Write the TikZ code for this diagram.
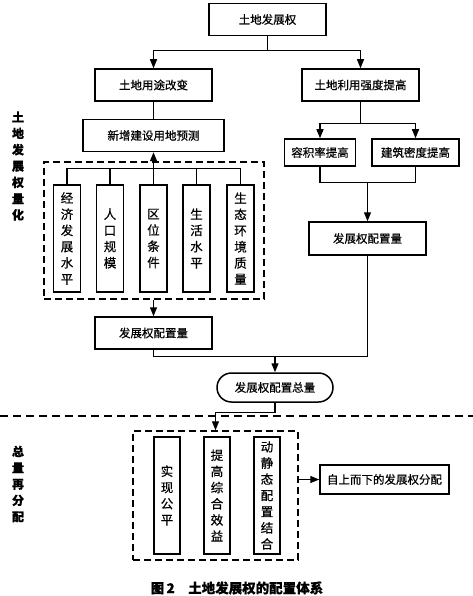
\documentclass[tikz,border=0pt]{standalone}
\usepackage{fontspec}
\newfontfamily\cjk[FakeBold=0.6]{Noto Sans CJK SC}
\usepackage{tikz}
\usetikzlibrary{positioning, arrows.meta, calc}

\begin{document}
\begin{tikzpicture}[
        x=1pt, y=-1pt, >={Triangle[length=9pt, width=7pt]},
        box/.style={rectangle, draw, line width=1.5pt, inner sep=0pt, minimum width=117pt, minimum height=32pt, align=center, font=\cjk\fontsize{11.5}{14}\selectfont},
        vbox/.style={box, minimum width=27pt, minimum height=107pt, font=\cjk\fontsize{12.5}{16.2}\selectfont},
        dbox/.style={rectangle, draw, line width=1.5pt, dash pattern=on 7pt off 4pt, inner sep=0pt},
        arrow/.style={->, line width=1.3pt},
        line/.style={line width=1.3pt},
        sidelabel/.style={align=center, font=\cjk\bfseries\fontsize{12}{16.3}\selectfont},
    ]
    \useasboundingbox (0,0) rectangle (473,596);
    % upper part: quantification
    \node[box] (root) at (267.5,19.5) {土地发展权};
    \node[box] (use) at (153.5,85) {土地用途改变};
    \node[box] (intens) at (360.5,85) {土地利用强度提高};
    \node[box, minimum width=141pt, below=17pt of use] (predict) {新增建设用地预测};
    \node[box, minimum width=71pt, minimum height=27pt] (far) at (320,152.5) {容积率提高};
    \node[box, minimum width=87pt, minimum height=27pt] (density) at (415.5,152.5) {建筑密度提高};
    \foreach \x/\name/\txt in {67/econ/经\\济\\发\\展\\水\\平, 110/pop/人\\口\\规\\模, 153.5/loc/区\\位\\条\\件, 196.5/life/生\\活\\水\\平, 240.5/eco/生\\态\\环\\境\\质\\量}
        \node[vbox] (\name) at (\x,238.5) {\txt};
    \node[dbox, minimum width=220pt, minimum height=137pt] (factors) at (154,230.5) {};
    \node[box] (leftq) at (153.5,333) {发展权配置量};
    \node[box, minimum height=33pt] (rightq) at (367.5,238.5) {发展权配置量};
    \node[box, rounded corners=14.5pt, minimum width=116pt, minimum height=29pt] (total) at (275,387.5) {发展权配置总量};
    \draw[arrow] (root.south) -- ++(0,14) -| (use.north);
    \draw[arrow] (root.south) -- ++(0,14) -| (intens.north);
    \draw[line] (use) -- (predict);
    \draw[line] (econ.north) -- ++(0,-16) coordinate (bus) -| (eco.north);
    \draw[line] (pop.north) -- (pop.north |- bus);
    \draw[line] (life.north) -- (life.north |- bus);
    \draw[arrow] (loc.north) -- (predict.south);
    \draw[arrow] (leftq.north |- factors.south) -- (leftq.north);
    \draw[arrow] (intens.south) -- ++(0,22) -| (far.north);
    \draw[arrow] (intens.south) -- ++(0,22) -| (density.north);
    \draw[line] (far.south) -- ++(0,16) coordinate (merge) -| (density.south);
    \draw[arrow] (merge -| rightq.north) -- (rightq.north);
    \draw[line] (leftq.south) -- ++(0,7) coordinate (join) -| (rightq.south);
    \draw[arrow] (join -| total.north) -- (total.north);
    % separator
    \coordinate (sepL) at (0,416);
    \coordinate (sepR) at (473,416);
    \draw[line, dash pattern=on 8pt off 5pt] (sepL) -- (sepR);
    % lower part: redistribution
    \foreach \x/\name/\txt in {167/fair/实\\现\\公\\平, 217/benefit/提\\高\\综\\合\\效\\益, 267/combine/动\\静\\态\\配\\置\\结\\合}
        \node[vbox, minimum width=26pt, minimum height=117pt] (\name) at (\x,495.5) {\txt};
    \node[dbox, minimum width=165pt, minimum height=129pt] (goals) at (215.5,495.5) {};
    \node[box, minimum width=129pt, minimum height=29pt] (topdown) at (384.5,479.5) {自上而下的发展权分配};
    \draw[arrow] (total.south) -- ++(0,10) -| (goals.north);
    \draw[arrow] (goals.east |- topdown) -- (topdown.west);
    \node[sidelabel] (quantify) at (18,166) {土\\地\\发\\展\\权\\量\\化};
    \node[sidelabel] (realloc) at (18,484) {总\\量\\再\\分\\配};
    \node[font=\cjk\bfseries\fontsize{13.5}{15}\selectfont] (caption) at (237,588) {图\,2\quad 土地发展权的配置体系};
\end{tikzpicture}
\end{document}
